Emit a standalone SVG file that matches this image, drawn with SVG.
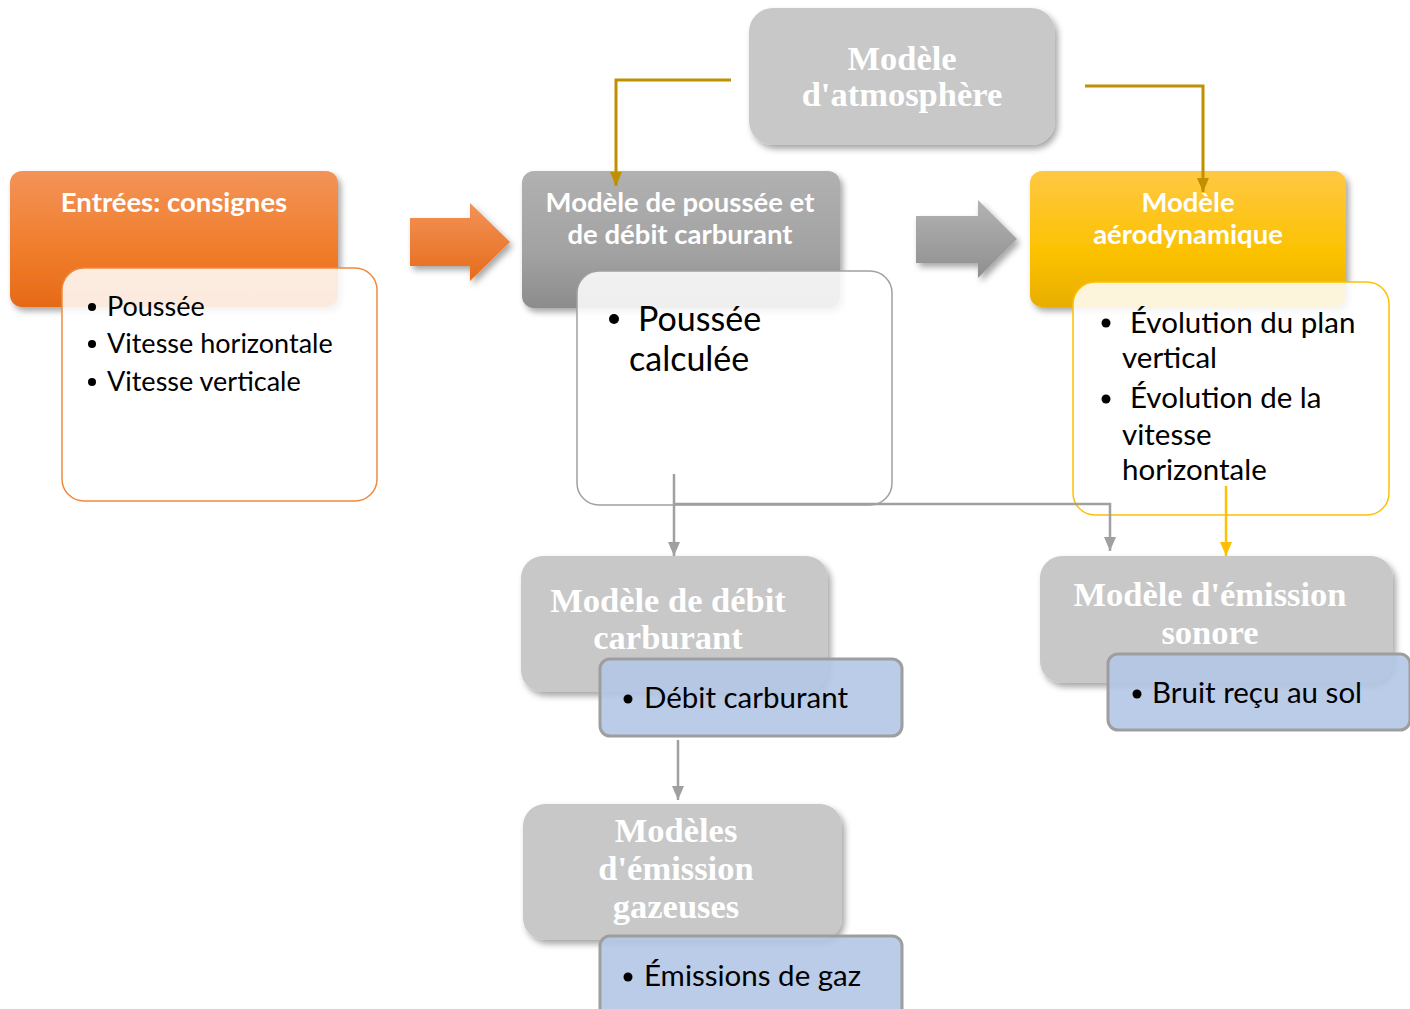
<svg xmlns="http://www.w3.org/2000/svg" width="1410" height="1009" viewBox="0 0 1410 1009">
  <defs>
    <linearGradient id="gOrange" x1="0" y1="0" x2="0" y2="1">
      <stop offset="0" stop-color="#F39358"/>
      <stop offset="0.6" stop-color="#F07C2A"/>
      <stop offset="1" stop-color="#E56A18"/>
    </linearGradient>
    <linearGradient id="gGray" x1="0" y1="0" x2="0" y2="1">
      <stop offset="0" stop-color="#B1B1B1"/>
      <stop offset="0.6" stop-color="#A2A2A2"/>
      <stop offset="1" stop-color="#8C8C8C"/>
    </linearGradient>
    <linearGradient id="gYellow" x1="0" y1="0" x2="0" y2="1">
      <stop offset="0" stop-color="#FFC843"/>
      <stop offset="0.6" stop-color="#FCC200"/>
      <stop offset="1" stop-color="#E8AE00"/>
    </linearGradient>
    <linearGradient id="gArrowO" x1="0" y1="0" x2="0" y2="1">
      <stop offset="0" stop-color="#F39358"/>
      <stop offset="1" stop-color="#E66B1A"/>
    </linearGradient>
    <linearGradient id="gArrowG" x1="0" y1="0" x2="0" y2="1">
      <stop offset="0" stop-color="#B3B3B3"/>
      <stop offset="1" stop-color="#8F8F8F"/>
    </linearGradient>
    <filter id="shadow" x="-10%" y="-10%" width="125%" height="130%">
      <feDropShadow dx="3" dy="4" stdDeviation="3" flood-color="#000" flood-opacity="0.35"/>
    </filter>
    <marker id="arrGold" viewBox="0 0 12 14" refX="6" refY="14" markerWidth="12" markerHeight="14" markerUnits="userSpaceOnUse">
      <path d="M0,0 L12,0 L6,14 Z" fill="#BF9000"/>
    </marker>
    <marker id="arrGray" viewBox="0 0 12 14" refX="6" refY="14" markerWidth="12" markerHeight="14" markerUnits="userSpaceOnUse">
      <path d="M0,0 L12,0 L6,14 Z" fill="#A0A0A0"/>
    </marker>
    <marker id="arrYellow" viewBox="0 0 12 14" refX="6" refY="14" markerWidth="12" markerHeight="14" markerUnits="userSpaceOnUse">
      <path d="M0,0 L12,0 L6,14 Z" fill="#FFC000"/>
    </marker>
  </defs>
  <style>
    .head { font-family: Lato, "Liberation Sans", sans-serif; font-weight: bold; font-size: 27.5px; fill: #FFFFFF; text-anchor: middle; }
    .serif { font-family: "Liberation Serif", "DejaVu Serif", serif; font-weight: bold; font-size: 34.5px; fill: #FFFFFF; text-anchor: middle; }
    .body { font-family: Lato, "Liberation Sans", sans-serif; fill: #000000; }
    .panel { fill: #FFFFFF; fill-opacity: 0.86; stroke-width: 1.5; }
    .blue { fill: #B4C7E7; fill-opacity: 0.9; stroke: #9E9E9E; stroke-width: 3; }
    .plain { fill: #C8C8C8; }
  </style>

  <!-- block arrows between the main stages -->
  <g id="arrow-inputs" filter="url(#shadow)">
    <polygon points="410,218 470,218 470,203 510,242 470,281 470,266 410,266" fill="url(#gArrowO)"/>
  </g>
  <g id="arrow-thrust" filter="url(#shadow)">
    <polygon points="916,216 978,216 978,200 1017,239 978,278 978,263 916,263" fill="url(#gArrowG)"/>
  </g>

  <!-- atmosphere model -->
  <g id="node-atmosphere">
    <rect x="749" y="8" width="306" height="137" rx="24" class="plain" filter="url(#shadow)"/>
    <text class="serif" x="902" y="70">Modèle</text>
    <text class="serif" x="902" y="106">d'atmosphère</text>
  </g>

  <!-- inputs -->
  <g id="node-inputs">
    <rect x="10" y="171" width="328" height="136" rx="12" fill="url(#gOrange)" filter="url(#shadow)"/>
    <text class="head" x="174" y="212">Entrées: consignes</text>
    <rect x="62" y="268" width="315" height="233" rx="22" class="panel" stroke="#F08A3E"/>
    <g class="body" font-size="27">
      <circle cx="92" cy="307" r="4"/>
      <text x="107" y="316">Poussée</text>
      <circle cx="92" cy="344" r="4"/>
      <text x="107" y="353">Vitesse horizontale</text>
      <circle cx="92" cy="382" r="4"/>
      <text x="107" y="391">Vitesse verticale</text>
    </g>
  </g>

  <!-- thrust and fuel flow model -->
  <g id="node-thrust">
    <rect x="522" y="171" width="318" height="137" rx="12" fill="url(#gGray)" filter="url(#shadow)"/>
    <text class="head" x="680" y="212">Modèle de poussée et</text>
    <text class="head" x="680" y="244">de débit carburant</text>
    <rect x="577" y="271" width="315" height="234" rx="22" class="panel" stroke="#A0A0A0"/>
    <g class="body" font-size="34">
      <circle cx="614" cy="319" r="5"/>
      <text x="638" y="331">Poussée</text>
      <text x="629" y="371">calculée</text>
    </g>
  </g>

  <!-- aerodynamic model -->
  <g id="node-aero">
    <rect x="1030" y="171" width="316" height="136" rx="12" fill="url(#gYellow)" filter="url(#shadow)"/>
    <text class="head" x="1188" y="212">Modèle</text>
    <text class="head" x="1188" y="244">aérodynamique</text>
    <rect x="1073" y="282" width="316" height="233" rx="22" class="panel" stroke="#FFC000"/>
    <g class="body" font-size="29.5">
      <circle cx="1106" cy="323" r="4.5"/>
      <text x="1130" y="333">Évolution du plan</text>
      <text x="1122" y="368">vertical</text>
      <circle cx="1106" cy="399" r="4.5"/>
      <text x="1130" y="408">Évolution de la</text>
      <text x="1122" y="445">vitesse</text>
      <text x="1122" y="480">horizontale</text>
    </g>
  </g>

  <!-- fuel flow model -->
  <g id="node-fuel">
    <rect x="521" y="556" width="307" height="136" rx="22" class="plain" filter="url(#shadow)"/>
    <text class="serif" x="668" y="612">Modèle de débit</text>
    <text class="serif" x="668" y="649">carburant</text>
    <rect x="600" y="659" width="302" height="77" rx="10" class="blue"/>
    <circle cx="628" cy="699" r="4.5" fill="#000"/>
    <text class="body" x="644" y="708" font-size="29.5">Débit carburant</text>
  </g>

  <!-- gas emission models -->
  <g id="node-gas">
    <rect x="523" y="804" width="319" height="136" rx="22" class="plain" filter="url(#shadow)"/>
    <text class="serif" x="676" y="842">Modèles</text>
    <text class="serif" x="676" y="880">d'émission</text>
    <text class="serif" x="676" y="918">gazeuses</text>
    <rect x="600" y="936" width="302" height="86" rx="10" class="blue"/>
    <circle cx="628" cy="977" r="4.5" fill="#000"/>
    <text class="body" x="644" y="986" font-size="29.5">Émissions de gaz</text>
  </g>

  <!-- noise emission model -->
  <g id="node-noise">
    <rect x="1040" y="556" width="353" height="127" rx="22" class="plain" filter="url(#shadow)"/>
    <text class="serif" x="1210" y="606">Modèle d'émission</text>
    <text class="serif" x="1210" y="644">sonore</text>
    <rect x="1108" y="654" width="302" height="76" rx="10" class="blue"/>
    <circle cx="1137" cy="694" r="4.5" fill="#000"/>
    <text class="body" x="1152" y="703" font-size="29.5">Bruit reçu au sol</text>
  </g>

  <!-- connectors, drawn over the boxes -->
  <g id="connectors" fill="none">
    <polyline points="731,80 616,80 616,186" stroke="#BF9000" stroke-width="3" marker-end="url(#arrGold)"/>
    <polyline points="1085,86 1203,86 1203,192" stroke="#BF9000" stroke-width="3" marker-end="url(#arrGold)"/>
    <polyline points="674,474 674,556" stroke="#A0A0A0" stroke-width="2.5" marker-end="url(#arrGray)"/>
    <polyline points="674,504 1110,504 1110,551" stroke="#A0A0A0" stroke-width="2.5" marker-end="url(#arrGray)"/>
    <polyline points="1226,486 1226,556" stroke="#FFC000" stroke-width="2.5" marker-end="url(#arrYellow)"/>
    <polyline points="678,740 678,800" stroke="#A0A0A0" stroke-width="2.5" marker-end="url(#arrGray)"/>
  </g>
</svg>
